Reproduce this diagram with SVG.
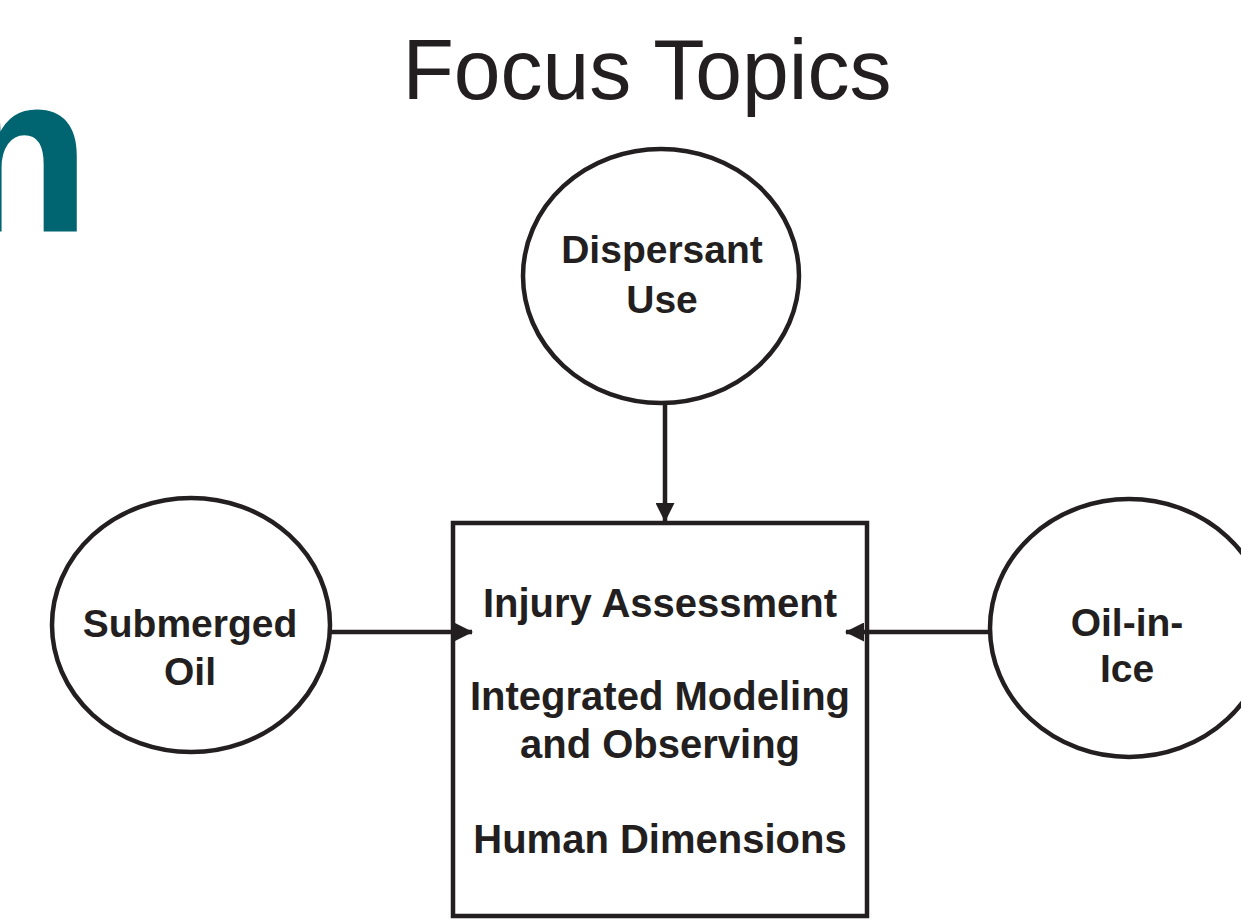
<svg xmlns="http://www.w3.org/2000/svg" width="1241" height="919" viewBox="0 0 1241 919">
<style>
.shape{fill:#fff;stroke:#231f20;stroke-width:4.5}
.lbl{font-family:"Liberation Sans",Arial,sans-serif;font-weight:bold;font-size:39px;fill:#231f20;text-anchor:middle}
.box{font-family:"Liberation Sans",Arial,sans-serif;font-weight:bold;font-size:40px;fill:#231f20;text-anchor:middle}
.conn{stroke:#231f20;stroke-width:4.5;fill:none}
</style>
<defs>
<marker id="ah" markerWidth="19" markerHeight="19" viewBox="0 0 19 19" refX="18" refY="9.5" orient="auto" markerUnits="userSpaceOnUse">
<path d="M0,0 L19,9.5 L0,19 Z" fill="#231f20"/>
</marker>
</defs>
<rect width="1241" height="919" fill="#fff"/>
<text x="89" y="230" font-family="'Liberation Sans',Arial,sans-serif" font-weight="bold" font-size="220" fill="#006570" text-anchor="end" stroke="#006570" stroke-width="3">n</text>
<text x="647" y="99" font-family="'Liberation Sans',Arial,sans-serif" font-size="85" fill="#231f20" text-anchor="middle" textLength="489" lengthAdjust="spacingAndGlyphs">Focus Topics</text>
<g id="center">
<rect class="shape" x="453" y="523" width="414" height="393"/>
<text class="box" x="660" y="617">Injury Assessment</text>
<text class="box" x="660" y="710">Integrated Modeling</text>
<text class="box" x="660" y="758">and Observing</text>
<text class="box" x="660" y="853">Human Dimensions</text>
</g>
<g id="dispersant">
<ellipse class="shape" cx="661" cy="276" rx="138" ry="127"/>
<text class="lbl" x="662" y="263">Dispersant</text>
<text class="lbl" x="662" y="313">Use</text>
</g>
<g id="submerged">
<ellipse class="shape" cx="191" cy="625" rx="139" ry="127"/>
<text class="lbl" x="190" y="637">Submerged</text>
<text class="lbl" x="190" y="685">Oil</text>
</g>
<g id="oilinice">
<ellipse class="shape" cx="1129" cy="628" rx="139" ry="129"/>
<text class="lbl" x="1127" y="636">Oil-in-</text>
<text class="lbl" x="1127" y="682">Ice</text>
</g>
<g id="connectors">
<line class="conn" x1="665" y1="403" x2="665" y2="521" marker-end="url(#ah)"/>
<line class="conn" x1="330" y1="632" x2="472" y2="632" marker-end="url(#ah)"/>
<line class="conn" x1="990" y1="632" x2="846" y2="632" marker-end="url(#ah)"/>
</g>
</svg>
